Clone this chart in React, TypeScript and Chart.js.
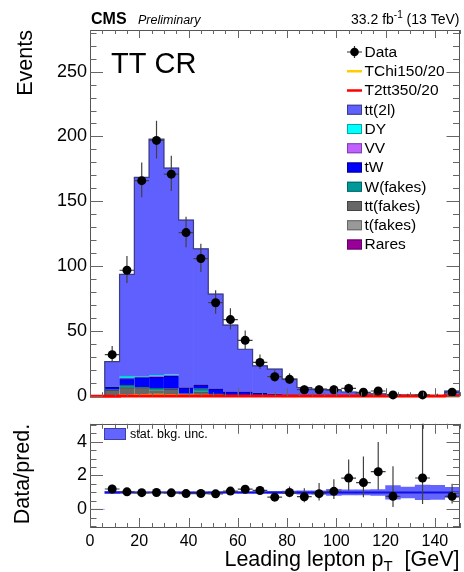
import React, { useEffect, useRef } from "react";
import { Chart, registerables } from "chart.js";

Chart.register(...registerables);

const FONT = "'Liberation Sans', Arial, Helvetica, sans-serif";

// ---- data (bins of 6 GeV, 6–150 GeV) ----
const binCenters = [9, 15, 21, 27, 33, 39, 45, 51, 57, 63, 69, 75, 81, 87, 93, 99, 105, 111, 117, 123, 129, 135, 141, 147];
const binHalfWidth = 3;
const dataCounts = [32, 97, 166, 197, 171, 126, 106, 72, 59, 43, 26, 15, 13, 5, 5, 5, 6, 3, 4, 1, 0, 1, 0, 3];

const rares = [0.05, 0.1, 0.1, 0.1, 0.1, 0.05, 0.05, 0.05, 0.05, 0.05, 0.02, 0.02, 0.02, 0.02, 0.02, 0.01, 0.01, 0.01, 0.01, 0.01, 0.01, 0.01, 0.01, 0.01];
const tFakes = [0.6, 1.0, 1.0, 0.8, 0.8, 0.4, 0.6, 0.3, 0.2, 0.2, 0.1, 0.05, 0.05, 0.03, 0.03, 0.02, 0.02, 0.01, 0.01, 0.01, 0.01, 0, 0, 0.02];
const ttFakes = [4.0, 5.5, 5.5, 3.5, 4.5, 1.2, 2.8, 1.2, 0.6, 0.4, 0.3, 0.2, 0.15, 0.1, 0.1, 0.08, 0.05, 0.03, 0.03, 0.03, 0.02, 0.01, 0.01, 0.05];
const wFakes = [0.3, 2.0, 0.5, 1.8, 0.3, 0.2, 2.2, 0.2, 0.1, 0.2, 0.1, 0.1, 0.05, 0.05, 0.05, 0.03, 0.02, 0.02, 0.02, 0.02, 0.01, 0.01, 0.01, 0.02];
const tW = [1.9, 5.0, 7.2, 8.5, 9.8, 4.5, 3.2, 3.9, 2.5, 2.6, 1.6, 1.35, 0.85, 0.55, 0.55, 0.4, 0.35, 0.2, 0.2, 0.2, 0.12, 0.05, 0.05, 0.4];
const vv = [0.1, 0.5, 0.6, 0.8, 0.8, 0.2, 0.2, 0.2, 0.1, 0.1, 0.1, 0.05, 0.05, 0.03, 0.03, 0.03, 0.03, 0.02, 0.02, 0.02, 0.02, 0.01, 0.01, 0.05];
const dy = [0.1, 1.6, 0.5, 0.7, 0.7, 0.1, 0.2, 0.1, 0.1, 0.1, 0.1, 0.05, 0.03, 0.02, 0.02, 0.03, 0.02, 0.01, 0.01, 0.01, 0.01, 0.01, 0.01, 0.05];
const tt2l = [19.6, 78.1, 153.1, 181.7, 158.6, 129.0, 104.2, 72.7, 51.1, 32.5, 21.0, 19.0, 11.9, 5.9, 4.6, 4.1, 2.75, 1.6, 1.5, 1.0, 0.6, 0.44, 0.2, 3.3];
const bkgRelUnc = [0.06, 0.03, 0.025, 0.02, 0.02, 0.025, 0.025, 0.03, 0.035, 0.04, 0.05, 0.06, 0.08, 0.1, 0.1, 0.18, 0.15, 0.15, 0.17, 0.4, 0.32, 0.43, 0.42, 0.3];

// signals (bins 0–150 GeV)
const sigCenters = [3, 9, 15, 21, 27, 33, 39, 45, 51, 57, 63, 69, 75, 81, 87, 93, 99, 105, 111, 117, 123, 129, 135, 141, 147];
const tchi150 = [0, 0.2, 0.5, 0.9, 1.1, 1.0, 0.7, 0.5, 0.3, 0.2, 0.15, 0.1, 0.08, 0.05, 0.04, 0.03, 0.02, 0.02, 0.01, 0.01, 0.01, 0, 0, 0, 0];
const t2tt350 = [0, 0.05, 0.1, 0.15, 0.2, 0.2, 0.2, 0.2, 0.2, 0.2, 0.2, 0.2, 0.2, 0.2, 0.2, 0.2, 0.2, 0.15, 0.15, 0.15, 0.1, 0.1, 0.1, 0.1, 0.3];

// ratio panel: empty first bin (0–6 GeV) drawn at zero
const emptyBinEdges = [0, 6];

// tick labels
const xTickValues = [0, 20, 40, 60, 80, 100, 120, 140];
const mainYTickValues = [0, 50, 100, 150, 200, 250];
const ratioYTickValues = [0, 2, 4];

const bkgComponents = [
  { label: "Rares", values: rares, color: "#990099", border: "#660066" },
  { label: "t(fakes)", values: tFakes, color: "#999999", border: "#666666" },
  { label: "tt(fakes)", values: ttFakes, color: "#666666", border: "#444444" },
  { label: "W(fakes)", values: wFakes, color: "#009999", border: "#006666" },
  { label: "tW", values: tW, color: "#0000ff", border: "#000088" },
  { label: "VV", values: vv, color: "#c060ff", border: "#8040aa" },
  { label: "DY", values: dy, color: "#00ffff", border: "#00aaaa" },
  { label: "tt(2l)", values: tt2l, color: "#6060ff", border: "#3c3c80" },
];

// Garwood 68% Poisson intervals for small counts
const garwood: [number, number][] = [
  [0, 1.841], [0.1727, 3.2996], [0.7081, 4.6379], [1.3673, 5.9182], [2.0857, 7.1627],
  [2.8403, 8.3825], [3.62, 9.5837], [4.4185, 10.7731], [5.2316, 11.9532], [6.0565, 13.126], [6.8911, 14.2931],
];
function poissonInterval(n: number): [number, number] {
  if (n < garwood.length) return garwood[n];
  return [n - Math.sqrt(n), n + 1 + Math.sqrt(n + 1)];
}

const totals = binCenters.map((_, i) => bkgComponents.reduce((s, c) => s + c.values[i], 0));

function stepPoints(centers: number[], values: number[], half: number, close: boolean) {
  const pts: { x: number; y: number }[] = [];
  if (close) pts.push({ x: centers[0] - half, y: 0 });
  centers.forEach((c, i) => pts.push({ x: c - half, y: values[i] }));
  const last = centers.length - 1;
  pts.push({ x: centers[last] + half, y: values[last] });
  if (close) pts.push({ x: centers[last] + half, y: 0 });
  return pts;
}

type TickSpec = { xMajor: number; xMinor: number; yMajor: number; yMinor: number; xLenMaj: number; xLenMin: number; yLenMaj: number; yLenMin: number };

function drawTicks(chart: any, spec: TickSpec) {
  const { ctx, chartArea: a, scales } = chart;
  const xs = scales.x, ys = scales.y;
  ctx.save();
  ctx.strokeStyle = "#666";
  ctx.lineWidth = 1;
  ctx.beginPath();
  const nx = Math.round((xs.max - xs.min) / spec.xMinor);
  for (let k = 0; k <= nx; k++) {
    const v = xs.min + k * spec.xMinor;
    const major = Math.abs(v / spec.xMajor - Math.round(v / spec.xMajor)) < 1e-6;
    const len = major ? spec.xLenMaj : spec.xLenMin;
    const px = Math.round(xs.getPixelForValue(v)) + 0.5;
    ctx.moveTo(px, a.bottom);
    ctx.lineTo(px, a.bottom - len);
    ctx.moveTo(px, a.top);
    ctx.lineTo(px, a.top + len);
  }
  const start = Math.ceil(ys.min / spec.yMinor) * spec.yMinor;
  const ny = Math.floor((ys.max - start) / spec.yMinor + 1e-6);
  for (let k = 0; k <= ny; k++) {
    const v = start + k * spec.yMinor;
    const major = Math.abs(v / spec.yMajor - Math.round(v / spec.yMajor)) < 1e-6;
    const len = major ? spec.yLenMaj : spec.yLenMin;
    const py = Math.round(ys.getPixelForValue(v)) + 0.5;
    ctx.moveTo(a.left, py);
    ctx.lineTo(a.left + len, py);
    ctx.moveTo(a.right, py);
    ctx.lineTo(a.right - len, py);
  }
  ctx.stroke();
  ctx.restore();
}

function drawFrame(chart: any) {
  const { ctx, chartArea: a } = chart;
  ctx.save();
  ctx.strokeStyle = "#555";
  ctx.lineWidth = 1;
  ctx.strokeRect(Math.round(a.left) + 0.5, Math.round(a.top) + 0.5, Math.round(a.width) - 1, Math.round(a.height) - 1);
  ctx.restore();
}

function drawErrorBars(chart: any, scaleBy: number[] | null, skipZero: boolean) {
  const { ctx, chartArea: a, scales } = chart;
  const x = scales.x, y = scales.y;
  ctx.save();
  ctx.beginPath();
  ctx.rect(a.left, a.top, a.width, a.height + 6);
  ctx.clip();
  ctx.strokeStyle = "#404040";
  ctx.lineWidth = 1.2;
  ctx.beginPath();
  binCenters.forEach((c, i) => {
    const n = dataCounts[i];
    if (skipZero && n === 0) return;
    const f = scaleBy ? scaleBy[i] : 1;
    const [lo, hi] = poissonInterval(n);
    const px = x.getPixelForValue(c);
    ctx.moveTo(px, y.getPixelForValue(lo / f));
    ctx.lineTo(px, y.getPixelForValue(hi / f));
    if (n > 0) {
      const py = y.getPixelForValue(n / f);
      ctx.moveTo(x.getPixelForValue(c - binHalfWidth), py);
      ctx.lineTo(x.getPixelForValue(c + binHalfWidth), py);
    }
  });
  ctx.stroke();
  ctx.restore();
}

const legendEntries = [
  { label: "Data", kind: "data", color: "#000" },
  { label: "TChi150/20", kind: "line", color: "#ffcc00" },
  { label: "T2tt350/20", kind: "line", color: "#ff0000" },
  ...bkgComponents.slice().reverse().map((c) => ({ label: c.label, kind: "box", color: c.color, border: c.border })),
];

const mainPlugin = {
  id: "mainDeco",
  beforeDatasetsDraw(chart: any) {
    drawFrame(chart);
  },
  beforeDatasetDraw(chart: any, args: any) {
    if (chart.data.datasets[args.index].label === "Data") drawErrorBars(chart, null, false);
  },
  afterDatasetsDraw(chart: any) {
    drawTicks(chart, { xMajor: 20, xMinor: 5, yMajor: 50, yMinor: 10, xLenMaj: 8, xLenMin: 4, yLenMaj: 13, yLenMin: 6.5 });
  },
  afterDraw(chart: any) {
    const { ctx, chartArea: a } = chart;
    ctx.save();
    ctx.fillStyle = "#000";
    ctx.textBaseline = "alphabetic";
    // header
    ctx.textAlign = "left";
    ctx.font = `bold 16px ${FONT}`;
    ctx.fillText("CMS", 91, 23.5);
    ctx.font = `italic 12.5px ${FONT}`;
    ctx.fillText("Preliminary", 138, 23.5);
    ctx.font = `14px ${FONT}`;
    const s1 = "33.2 fb", s3 = " (13 TeV)";
    const w1 = ctx.measureText(s1).width;
    const w3 = ctx.measureText(s3).width;
    ctx.font = `10px ${FONT}`;
    const w2 = ctx.measureText("-1").width;
    let xs = a.right - (w1 + w2 + w3);
    ctx.font = `14px ${FONT}`;
    ctx.fillText(s1, xs, 23.5);
    ctx.font = `10px ${FONT}`;
    ctx.fillText("-1", xs + w1, 17.5);
    ctx.font = `14px ${FONT}`;
    ctx.fillText(s3, xs + w1 + w2, 23.5);
    // region label
    ctx.font = `29px ${FONT}`;
    ctx.fillText("TT CR", 111, 73);
    // y title
    ctx.save();
    ctx.translate(31.5, a.top);
    ctx.rotate(-Math.PI / 2);
    ctx.textAlign = "right";
    ctx.font = `21.5px ${FONT}`;
    ctx.fillText("Events", 0, 0);
    ctx.restore();
    // legend
    const mx0 = 347, mx1 = 362, tx = 364.5;
    ctx.font = `15.5px ${FONT}`;
    ctx.textBaseline = "middle";
    legendEntries.forEach((e: any, i) => {
      const yc = 52 + 19.25 * i;
      if (e.kind === "data") {
        ctx.strokeStyle = "#333";
        ctx.lineWidth = 1.2;
        ctx.beginPath();
        ctx.moveTo(mx0, yc);
        ctx.lineTo(mx1, yc);
        ctx.moveTo((mx0 + mx1) / 2, yc - 6);
        ctx.lineTo((mx0 + mx1) / 2, yc + 6);
        ctx.stroke();
        ctx.fillStyle = "#000";
        ctx.beginPath();
        ctx.arc((mx0 + mx1) / 2, yc, 4.3, 0, Math.PI * 2);
        ctx.fill();
      } else if (e.kind === "line") {
        ctx.strokeStyle = e.color;
        ctx.lineWidth = 2.5;
        ctx.beginPath();
        ctx.moveTo(mx0, yc);
        ctx.lineTo(mx1, yc);
        ctx.stroke();
      } else {
        ctx.fillStyle = e.color;
        ctx.fillRect(mx0, yc - 5, mx1 - mx0, 10);
        ctx.strokeStyle = e.border;
        ctx.lineWidth = 1;
        ctx.strokeRect(mx0 + 0.5, yc - 4.5, mx1 - mx0 - 1, 9);
      }
      ctx.fillStyle = "#000";
      ctx.fillText(e.label, tx, yc + 0.5);
    });
    ctx.restore();
  },
};

const ratioValues = binCenters.map((_, i) => dataCounts[i] / totals[i]);

const ratioPlugin = {
  id: "ratioDeco",
  beforeDatasetsDraw(chart: any) {
    drawFrame(chart);
  },
  beforeDatasetDraw(chart: any, args: any) {
    if (chart.data.datasets[args.index].label === "Data/pred.") drawErrorBars(chart, totals, true);
  },
  afterDatasetsDraw(chart: any) {
    drawTicks(chart, { xMajor: 20, xMinor: 5, yMajor: 2, yMinor: 0.5, xLenMaj: 10, xLenMin: 5, yLenMaj: 13, yLenMin: 6.5 });
  },
  afterDraw(chart: any) {
    const { ctx, chartArea: a } = chart;
    ctx.save();
    ctx.fillStyle = "#000";
    // y title
    ctx.save();
    ctx.translate(29, a.top);
    ctx.rotate(-Math.PI / 2);
    ctx.textAlign = "right";
    ctx.textBaseline = "alphabetic";
    ctx.font = `21.5px ${FONT}`;
    ctx.fillText("Data/pred.", 0, 0);
    ctx.restore();
    // x title
    ctx.textBaseline = "alphabetic";
    ctx.textAlign = "left";
    const big = `21.5px ${FONT}`, small = `15px ${FONT}`;
    const p1 = "Leading lepton p", p2 = "T", p3 = "  [GeV]";
    ctx.font = big;
    const w1 = ctx.measureText(p1).width, w3 = ctx.measureText(p3).width;
    ctx.font = small;
    const w2 = ctx.measureText(p2).width;
    const x0 = a.right - (w1 + w2 + w3);
    const yb = 156;
    ctx.font = big;
    ctx.fillText(p1, x0, yb);
    ctx.font = small;
    ctx.fillText(p2, x0 + w1, yb + 4.5);
    ctx.font = big;
    ctx.fillText(p3, x0 + w1 + w2, yb);
    // legend
    ctx.fillStyle = "#6464ff";
    ctx.fillRect(104, 18, 22, 12);
    ctx.strokeStyle = "#4040a0";
    ctx.lineWidth = 1;
    ctx.strokeRect(104.5, 18.5, 21, 11);
    ctx.fillStyle = "#000";
    ctx.font = `12.5px ${FONT}`;
    ctx.textBaseline = "middle";
    ctx.fillText("stat. bkg. unc.", 130, 24.5);
    ctx.restore();
  },
};

export default function App() {
  const mainRef = useRef<HTMLCanvasElement>(null);
  const ratioRef = useRef<HTMLCanvasElement>(null);

  useEffect(() => {
    const tickFont = { family: FONT, size: 18 };
    const mainChart = new Chart(mainRef.current!, {
      type: "bar",
      data: {
        datasets: [
          {
            type: "line",
            label: "Data",
            data: binCenters.map((c, i) => ({ x: c, y: dataCounts[i] })).filter((p) => p.y > 0),
            showLine: false,
            pointRadius: 4.5,
            pointBackgroundColor: "#000",
            pointBorderWidth: 0,
            stack: "data",
            order: 0,
            clip: false,
          } as any,
          {
            type: "line",
            label: "T2tt350/20",
            data: stepPoints(sigCenters, t2tt350, binHalfWidth, false),
            borderColor: "#ff0000",
            borderWidth: 3,
            pointRadius: 0,
            stepped: "before",
            stack: "sig2",
            order: 1,
            clip: false,
          } as any,
          {
            type: "line",
            label: "TChi150/20",
            data: stepPoints(sigCenters, tchi150, binHalfWidth, false),
            borderColor: "#ffcc00",
            borderWidth: 2,
            pointRadius: 0,
            stepped: "before",
            stack: "sig1",
            order: 2,
            clip: false,
          } as any,
          {
            type: "line",
            label: "total",
            data: stepPoints(binCenters, totals, binHalfWidth, true),
            borderColor: "#3c3c80",
            borderWidth: 1.2,
            pointRadius: 0,
            stepped: "before",
            stack: "outline",
            order: 3,
          } as any,
          ...bkgComponents.map((c, k) => ({
            type: "bar",
            label: c.label,
            data: binCenters.map((x, i) => ({ x, y: c.values[i] })),
            backgroundColor: c.color,
            borderColor: c.border,
            borderWidth: c.label === "tt(2l)" ? 0 : { top: 1, left: 0, right: 0, bottom: 0 },
            borderSkipped: false,
            barPercentage: 1,
            categoryPercentage: 1,
            stack: "bkg",
            order: 10 + k,
          })) as any,
        ],
      },
      options: {
        responsive: false,
        animation: false,
        events: [],
        layout: { padding: { left: 0, right: 2, top: 30, bottom: 12 } },
        plugins: { legend: { display: false }, tooltip: { enabled: false }, title: { display: false } },
        scales: {
          x: { type: "linear", min: 0, max: 150, offset: false, display: false, grid: { offset: false } },
          y: {
            type: "linear",
            min: 0,
            max: 282,
            stacked: true,
            grid: { display: false, drawTicks: false },
            border: { display: false },
            ticks: { font: tickFont, color: "#000", padding: 3 },
            afterBuildTicks: (s: any) => {
              s.ticks = mainYTickValues.map((v) => ({ value: v }));
            },
            afterFit: (s: any) => {
              s.width = 90;
            },
          },
        },
      } as any,
      plugins: [mainPlugin],
    });

    const ratioChart = new Chart(ratioRef.current!, {
      type: "bar",
      data: {
        datasets: [
          {
            type: "line",
            label: "Data/pred.",
            data: binCenters.map((c, i) => ({ x: c, y: ratioValues[i] })).filter((p, i) => dataCounts[i] > 0),
            showLine: false,
            pointRadius: 4.5,
            pointBackgroundColor: "#000",
            pointBorderWidth: 0,
            order: 0,
          } as any,
          {
            type: "line",
            label: "unity",
            data: [
              { x: binCenters[0] - binHalfWidth, y: 1 },
              { x: binCenters[binCenters.length - 1] + binHalfWidth, y: 1 },
            ],
            borderColor: "#1010e0",
            borderWidth: 2,
            pointRadius: 0,
            order: 1,
          } as any,
          {
            type: "line",
            label: "empty",
            data: emptyBinEdges.map((x) => ({ x, y: 0 })),
            borderColor: "#a8a8ff",
            borderWidth: 1,
            pointRadius: 0,
            order: 2,
          } as any,
          {
            type: "bar",
            label: "stat. bkg. unc.",
            data: binCenters.map((x, i) => ({ x, y: [1 - bkgRelUnc[i], 1 + bkgRelUnc[i]] })),
            backgroundColor: "#6464ff",
            borderWidth: 0,
            barPercentage: 1,
            categoryPercentage: 1,
            order: 3,
          } as any,
        ],
      },
      options: {
        responsive: false,
        animation: false,
        events: [],
        layout: { padding: { left: 0, right: 2, top: 10, bottom: 0 } },
        plugins: { legend: { display: false }, tooltip: { enabled: false }, title: { display: false } },
        scales: {
          x: {
            type: "linear",
            min: 0,
            max: 150,
            offset: false,
            grid: { display: false, drawTicks: false, offset: false },
            border: { display: false },
            ticks: { font: { family: FONT, size: 16 }, color: "#000", padding: 4, autoSkip: false, maxRotation: 0 },
            afterBuildTicks: (s: any) => {
              s.ticks = xTickValues.map((v) => ({ value: v }));
            },
            afterFit: (s: any) => {
              s.height = 44;
            },
          },
          y: {
            type: "linear",
            min: -1.1,
            max: 5.05,
            grid: { display: false, drawTicks: false },
            border: { display: false },
            ticks: { font: tickFont, color: "#000", padding: 3 },
            afterBuildTicks: (s: any) => {
              s.ticks = ratioYTickValues.map((v) => ({ value: v }));
            },
            afterFit: (s: any) => {
              s.width = 90;
            },
          },
        },
      } as any,
      plugins: [ratioPlugin],
    });

    return () => {
      mainChart.destroy();
      ratioChart.destroy();
    };
  }, []);

  return (
    <div style={{ position: "absolute", left: 0, top: 0, width: 464, height: 572, background: "#fff" }}>
      <canvas ref={mainRef} width={464} height={410} style={{ display: "block", width: 464, height: 410 }} />
      <canvas ref={ratioRef} width={464} height={162} style={{ display: "block", width: 464, height: 162 }} />
    </div>
  );
}
